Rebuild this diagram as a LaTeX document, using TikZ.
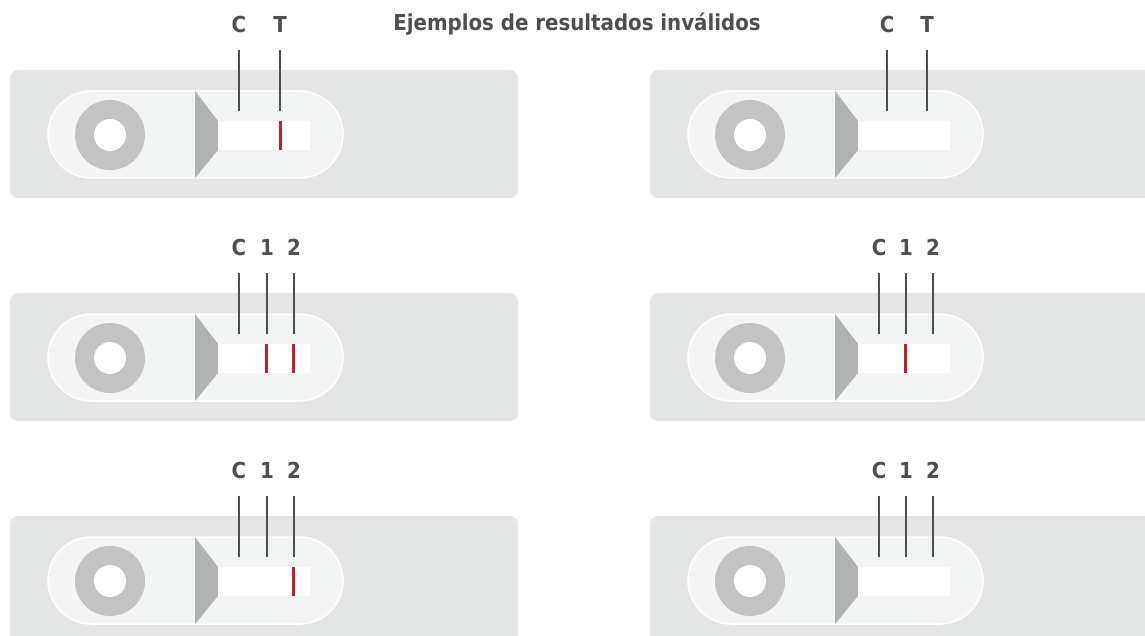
\documentclass[tikz,border=0pt]{standalone}
\usepackage{fontspec}
\setmainfont{DejaVu Sans Condensed}
\usepackage{tikz}

\definecolor{casegray}{HTML}{E4E5E5}
\definecolor{pillgray}{HTML}{F3F4F4}
\definecolor{ringgray}{HTML}{C3C3C3}
\definecolor{padgray}{HTML}{B1B2B3}
\definecolor{inkgray}{HTML}{4D4E50}
\definecolor{bandred}{HTML}{BE1E2D}

\tikzset{
  labeltext/.style={font=\bfseries\fontsize{22}{22}\selectfont, text=inkgray, inner sep=0pt},
  leader/.style={draw=inkgray, line width=2.4pt},
  band/.style={draw=bandred, line width=3pt},
}

% #1 = x shift, #2 = y of the top edge
\newcommand{\cassette}[2]{
  \fill[casegray, rounded corners=8pt] (#1+10,#2) rectangle (#1+518,#2+128);
  \filldraw[fill=pillgray, draw=white, line width=1.5pt, rounded corners=43.5pt]
    (#1+48,#2+21) rectangle (#1+343,#2+108);
  \fill[ringgray] (#1+110,#2+65) circle[radius=35];
  \fill[white] (#1+110,#2+65) circle[radius=16];
  \fill[padgray] (#1+195,#2+21) -- (#1+218,#2+51) -- (#1+218,#2+80) -- (#1+195,#2+108) -- cycle;
  \fill[white] (#1+218,#2+51) rectangle (#1+310,#2+80);
}
% #1 = name, #2 = x, #3 = y of the top edge, #4 = text
\newcommand{\marker}[4]{
  \node[labeltext] (#1) at (#2,#3-46) {#4};
  \coordinate (#1top) at (#2,#3-20);
  \coordinate (#1bot) at (#2,#3+41);
  \draw[leader] (#1top) -- (#1bot);
}
% #1 = x, #2 = y of the top edge
\newcommand{\bandline}[2]{
  \draw[band] (#1,#2+51) -- (#1,#2+80);
}

\begin{document}
\begin{tikzpicture}[x=1pt, y=-1pt]
  \useasboundingbox (0,0) rectangle (1145,636);
  \clip (0,0) rectangle (1145,636);

  \node[labeltext] (title) at (577,24) {Ejemplos de resultados inválidos};

  % top row
  \cassette{0}{70}
  \marker{ac}{239}{70}{C}
  \marker{at}{280}{70}{T}
  \bandline{280}{70}
  \cassette{640}{70}
  \marker{bc}{887}{70}{C}
  \marker{bt}{927}{70}{T}

  % middle row
  \cassette{0}{293}
  \marker{cc}{239}{293}{C}
  \marker{ca}{267}{293}{1}
  \marker{cb}{294}{293}{2}
  \bandline{266}{293}
  \bandline{293}{293}
  \cassette{640}{293}
  \marker{dc}{879}{293}{C}
  \marker{da}{906}{293}{1}
  \marker{db}{933}{293}{2}
  \bandline{905}{293}

  % bottom row
  \cassette{0}{516}
  \marker{ec}{239}{516}{C}
  \marker{ea}{267}{516}{1}
  \marker{eb}{294}{516}{2}
  \bandline{293}{516}
  \cassette{640}{516}
  \marker{fc}{879}{516}{C}
  \marker{fa}{906}{516}{1}
  \marker{fb}{933}{516}{2}
\end{tikzpicture}
\end{document}
